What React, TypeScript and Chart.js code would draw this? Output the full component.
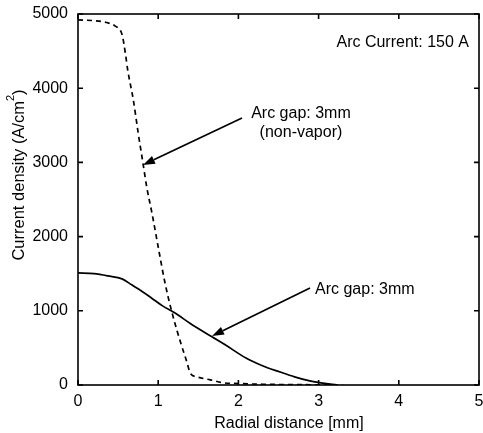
import React, { useEffect, useRef } from "react";
import { Chart, registerables } from "chart.js";

Chart.register(...registerables);

// ---- data ----
const dashedX = [0, 0.2, 0.375, 0.46, 0.55, 0.59, 0.62, 0.69, 0.75, 0.81, 0.86, 0.92, 1.0, 1.085, 1.17, 1.27, 1.36, 1.4, 1.48, 1.65, 1.81, 2.0, 2.3, 2.7, 3.0, 3.3];
const dashedY = [4920, 4910, 4880, 4840, 4720, 4475, 4245, 3840, 3400, 2990, 2650, 2330, 1860, 1375, 985, 605, 300, 160, 110, 70, 30, 20, 10, 5, 3, 0];
const solidX = [0, 0.2, 0.375, 0.55, 0.67, 0.8, 0.92, 1.05, 1.21, 1.4, 1.67, 1.83, 2.1, 2.3, 2.52, 2.7, 2.89, 3.05, 3.23];
const solidY = [1510, 1500, 1470, 1430, 1350, 1260, 1170, 1070, 970, 830, 650, 545, 360, 260, 175, 110, 55, 25, 0];

const xTicks = [0, 1, 2, 3, 4, 5];
const xTickLabels = ["0", "1", "2", "3", "4", "5"];
const yTicks = [0, 1000, 2000, 3000, 4000, 5000];
const yTickLabels = ["0", "1000", "2000", "3000", "4000", "5000"];

const xTitle = "Radial distance [mm]";
const yTitle = "Current density (A/cm";
const yTitleSup = "2";
const yTitleEnd = ")";

const noteCurrent = "Arc Current: 150 A";
const noteDashed1 = "Arc gap: 3mm";
const noteDashed2 = "(non-vapor)";
const noteSolid = "Arc gap: 3mm";

// annotation anchors in data coordinates
const noteCurrentPos = { x: 4.875, y: 4609 };
const noteDashed1Pos = { x: 2.78, y: 3652 };
const noteDashed2Pos = { x: 2.78, y: 3396 };
const noteSolidPos = { x: 2.955, y: 1280 };
const arrowDashed = { from: { x: 2.045, y: 3598 }, to: { x: 0.81, y: 2965 } };
const arrowSolid = { from: { x: 2.893, y: 1307 }, to: { x: 1.671, y: 660 } };

const FONT = '"Liberation Sans", Arial, sans-serif';
const INK = "#000";

const toPoints = (xs: number[], ys: number[]) => xs.map((x, i) => ({ x, y: ys[i] }));

const decorPlugin = {
  id: "decor",
  afterDraw(chart: any) {
    const ctx = chart.ctx as CanvasRenderingContext2D;
    const xs = chart.scales.x;
    const ys = chart.scales.y;
    const { left, right, top, bottom } = chart.chartArea;
    ctx.save();
    ctx.strokeStyle = INK;
    ctx.fillStyle = INK;
    // frame
    ctx.lineWidth = 1.6;
    ctx.strokeRect(left, top, right - left, bottom - top);
    // inward ticks
    const tl = 5;
    ctx.beginPath();
    xTicks.forEach((v) => {
      const px = xs.getPixelForValue(v);
      ctx.moveTo(px, bottom);
      ctx.lineTo(px, bottom - tl);
      ctx.moveTo(px, top);
      ctx.lineTo(px, top + tl);
    });
    yTicks.forEach((v) => {
      const py = ys.getPixelForValue(v);
      ctx.moveTo(left, py);
      ctx.lineTo(left + tl, py);
      ctx.moveTo(right, py);
      ctx.lineTo(right - tl, py);
    });
    ctx.stroke();
    // tick labels
    ctx.font = `16px ${FONT}`;
    ctx.textAlign = "center";
    ctx.textBaseline = "middle";
    xTicks.forEach((v, i) => {
      ctx.fillText(xTickLabels[i], xs.getPixelForValue(v), bottom + 17);
    });
    ctx.textAlign = "right";
    yTicks.forEach((v, i) => {
      ctx.fillText(yTickLabels[i], left - 10, ys.getPixelForValue(v));
    });
    // x title
    ctx.textAlign = "center";
    ctx.fillText(xTitle, 289, bottom + 39);
    // y title (rotated)
    ctx.save();
    ctx.translate(19, 175);
    ctx.rotate(-Math.PI / 2);
    const fMain = `16.5px ${FONT}`;
    const fSup = `11px ${FONT}`;
    ctx.font = fMain;
    const w1 = ctx.measureText(yTitle).width;
    ctx.font = fSup;
    const w2 = ctx.measureText(yTitleSup).width;
    ctx.font = fMain;
    const w3 = ctx.measureText(yTitleEnd).width;
    const total = w1 + w2 + w3;
    let sx = -total / 2;
    ctx.textAlign = "left";
    ctx.fillText(yTitle, sx, 0);
    sx += w1;
    ctx.font = fSup;
    ctx.fillText(yTitleSup, sx, -8);
    sx += w2;
    ctx.font = fMain;
    ctx.fillText(yTitleEnd, sx, 0);
    ctx.restore();
    // notes
    ctx.font = `16px ${FONT}`;
    ctx.textAlign = "right";
    ctx.fillText(noteCurrent, xs.getPixelForValue(noteCurrentPos.x), ys.getPixelForValue(noteCurrentPos.y));
    ctx.textAlign = "center";
    ctx.fillText(noteDashed1, xs.getPixelForValue(noteDashed1Pos.x), ys.getPixelForValue(noteDashed1Pos.y));
    ctx.fillText(noteDashed2, xs.getPixelForValue(noteDashed2Pos.x), ys.getPixelForValue(noteDashed2Pos.y));
    ctx.textAlign = "left";
    ctx.fillText(noteSolid, xs.getPixelForValue(noteSolidPos.x), ys.getPixelForValue(noteSolidPos.y));
    // arrows
    const drawArrow = (a: { from: { x: number; y: number }; to: { x: number; y: number } }) => {
      const x1 = xs.getPixelForValue(a.from.x);
      const y1 = ys.getPixelForValue(a.from.y);
      const x2 = xs.getPixelForValue(a.to.x);
      const y2 = ys.getPixelForValue(a.to.y);
      const ang = Math.atan2(y2 - y1, x2 - x1);
      const hl = 12;
      const hw = 4.2;
      const bx = x2 - hl * Math.cos(ang);
      const by = y2 - hl * Math.sin(ang);
      ctx.lineWidth = 1.7;
      ctx.beginPath();
      ctx.moveTo(x1, y1);
      ctx.lineTo(bx, by);
      ctx.stroke();
      ctx.beginPath();
      ctx.moveTo(x2, y2);
      ctx.lineTo(bx + hw * Math.sin(ang), by - hw * Math.cos(ang));
      ctx.lineTo(bx - hw * Math.sin(ang), by + hw * Math.cos(ang));
      ctx.closePath();
      ctx.fill();
    };
    drawArrow(arrowDashed);
    drawArrow(arrowSolid);
    ctx.restore();
  },
};

export default function App() {
  const ref = useRef<HTMLCanvasElement | null>(null);
  useEffect(() => {
    document.body.style.margin = "0";
    document.body.style.background = "#fff";
    const canvas = ref.current;
    if (!canvas) return;
    const chart = new Chart(canvas, {
      type: "line",
      data: {
        datasets: [
          {
            data: toPoints(dashedX, dashedY),
            borderColor: INK,
            borderWidth: 1.7,
            borderDash: [5, 4],
            pointRadius: 0,
            fill: false,
            cubicInterpolationMode: "monotone",
          },
          {
            data: toPoints(solidX, solidY),
            borderColor: INK,
            borderWidth: 1.7,
            pointRadius: 0,
            fill: false,
            cubicInterpolationMode: "monotone",
          },
        ],
      },
      options: {
        responsive: false,
        animation: false,
        devicePixelRatio: 1,
        layout: { padding: { left: 78, right: 4, top: 14, bottom: 48 } },
        plugins: { legend: { display: false }, tooltip: { enabled: false } },
        scales: {
          x: { type: "linear", min: 0, max: 5, display: false },
          y: { type: "linear", min: 0, max: 5000, display: false },
        },
      },
      plugins: [decorPlugin],
    } as any);
    return () => chart.destroy();
  }, []);
  return (
    <div style={{ width: 483, height: 433, background: "#fff" }}>
      <canvas ref={ref} width={483} height={433} style={{ display: "block" }} />
    </div>
  );
}
